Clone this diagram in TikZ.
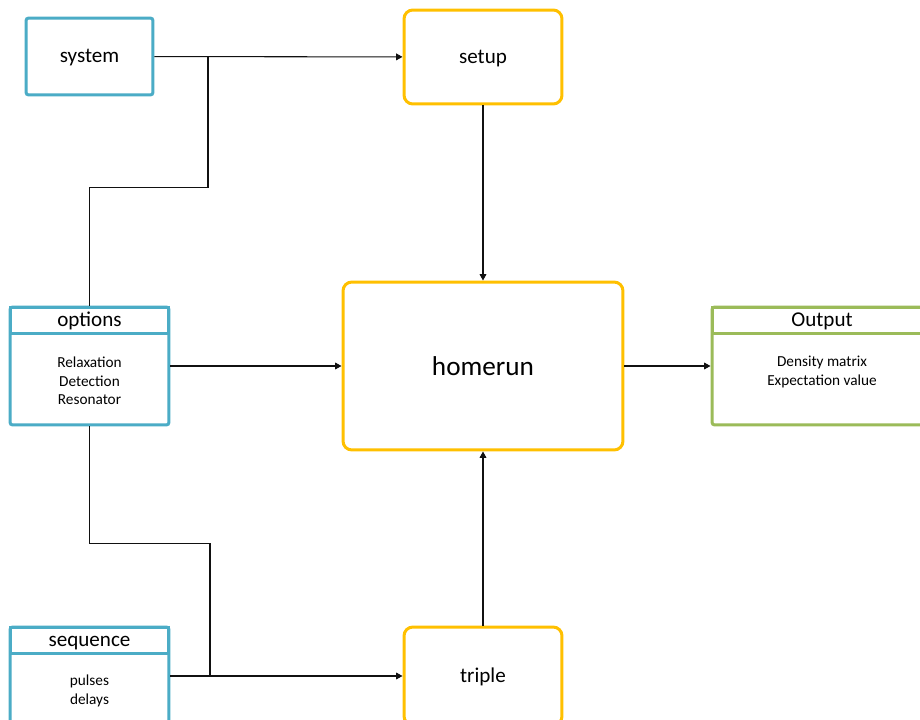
\documentclass[tikz,border=0pt]{standalone}
\usepackage{fontspec}
\setmainfont{Carlito}
\usetikzlibrary{arrows.meta,positioning,calc}
\definecolor{inblue}{HTML}{4BACC6}
\definecolor{coregold}{HTML}{FFC000}
\definecolor{outgreen}{HTML}{9BBB59}
\definecolor{ink}{HTML}{111111}

\begin{document}
\begin{tikzpicture}[x=0.02cm,y=-0.02cm,
    inbox/.style={draw=inblue,fill=white,line width=1.7pt,rounded corners=1.5pt,
                  align=center,inner sep=0pt,text height=0.9em,text depth=0.18em,
                  font=\fontsize{12}{14}\selectfont},
    core/.style={draw=coregold,fill=white,line width=1.7pt,rounded corners=5pt,
                 align=center,inner sep=0pt,text height=0.9em,text depth=0.18em,
                 font=\fontsize{12}{14}\selectfont},
    outbox/.style={draw=outgreen,fill=white,line width=1.7pt,rounded corners=1.5pt,
                   inner sep=0pt},
    head/.style={line width=1.7pt,anchor=north,minimum height=0.52cm,inner sep=0pt,
                 text height=0.9em,text depth=0.18em,font=\fontsize{12}{14}\selectfont},
    body/.style={align=center,inner sep=0pt,font=\fontsize{8.7}{10.4}\selectfont},
    arr/.style={-{Triangle[length=3.6pt,width=3.8pt]},ink,line width=0.6pt},
    link/.style={ink,line width=0.6pt}]
  \clip (0,0) rectangle (920,720);
  % inputs
  \node[inbox,minimum width=2.54cm,minimum height=1.54cm] (sys) at (89.5,56.5) {system};
  \node[inbox,minimum width=3.18cm,minimum height=2.36cm] (opt) at (89.5,366) {};
  \node[head,draw=inblue,minimum width=3.18cm] (opth) at (opt.north) {options};
  \node[body] (optb) at (89.5,381) {Relaxation\\Detection\\Resonator};
  \node[inbox,minimum width=3.18cm,minimum height=2.36cm] (seq) at (89.5,686) {};
  \node[head,draw=inblue,minimum width=3.18cm] (seqh) at (seq.north) {sequence};
  \node[body] (seqb) at (89.5,691) {pulses\\delays};
  % core
  \node[core,minimum width=3.16cm,minimum height=1.88cm] (setup) at (483,57) {setup};
  \node[core,minimum width=5.6cm,minimum height=3.36cm,text height=14pt,text depth=2.8pt,
        font=\fontsize{15.5}{18}\selectfont] (home) at (483,366) {homerun};
  \node[core,minimum width=3.16cm,minimum height=1.96cm] (trip) at (483,676) {triple};
  % output
  \node[outbox,minimum width=4.4cm,minimum height=2.36cm] (out) at (822,366) {};
  \node[head,draw=outgreen,minimum width=4.4cm] (outh) at (out.north) {Output};
  \node[body] (outb) at (822,372) {Density matrix\\Expectation value};
  % junctions
  \coordinate (j1) at (208,57);
  \coordinate (j2) at (210,676);
  \draw[arr] (sys) -- (setup);
  \draw[link] (opt.north) -- ++(0,-118) -| (j1);
  \draw[arr] (setup) -- (home);
  \draw[arr] (opt.east |- home.west) -- (home.west);
  \draw[arr] (home) -- (out.west);
  \draw[link] (opt.south) -- ++(0,117) -| (j2);
  \draw[arr] (seq.east |- trip.west) -- (trip.west);
  \draw[arr] (trip) -- (home);
\end{tikzpicture}
\end{document}
